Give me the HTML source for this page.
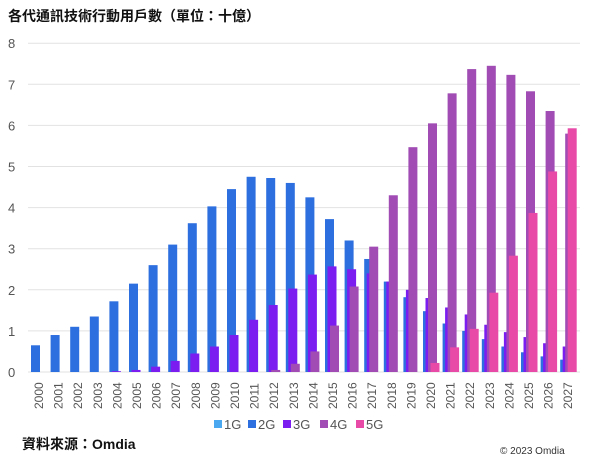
<!DOCTYPE html>
<html><head><meta charset="utf-8"><style>
body{margin:0;background:#fff;}
svg{display:block;font-family:"Liberation Sans","Noto Sans CJK TC",sans-serif;}
</style></head><body>
<svg width="600" height="455" xmlns="http://www.w3.org/2000/svg">
<text x="8" y="21" font-size="14" font-weight="bold" fill="#111">各代通訊技術行動用戶數（單位：十億）</text>
<g id="grid" stroke="#e2e2e2" stroke-width="1"></g>
<g id="ylab" font-size="13" fill="#555"></g>
<g id="bars"></g>
<g id="xlab" font-size="12" fill="#555"></g>
<g font-size="13" fill="#555">
<rect x="214" y="420" width="8" height="8" fill="#4aa8f0"/><text x="224" y="429">1G</text>
<rect x="248" y="420" width="8" height="8" fill="#2e6fe0"/><text x="258" y="429">2G</text>
<rect x="283" y="420" width="8" height="8" fill="#7b1df0"/><text x="293" y="429">3G</text>
<rect x="320" y="420" width="8" height="8" fill="#a04cb4"/><text x="330" y="429">4G</text>
<rect x="356" y="420" width="8" height="8" fill="#e84aa8"/><text x="366" y="429">5G</text>
</g>
<text x="22" y="449" font-size="14" font-weight="bold" fill="#111">資料來源：Omdia</text>
<text x="500" y="454" font-size="10" fill="#333">© 2023 Omdia</text>
<script>
var ns="http://www.w3.org/2000/svg",y0=372,u=41.1;
function el(p,t,a,txt){var e=document.createElementNS(ns,t);for(var k in a)e.setAttribute(k,a[k]);if(txt!=null)e.textContent=txt;document.getElementById(p).appendChild(e);}
for(var i=0;i<=8;i++){var y=y0-i*u;el("grid","line",{x1:28,x2:580,y1:y,y2:y});el("ylab","text",{x:8,y:y+5},i);}
var s={
g2:[.65,.9,1.1,1.35,1.72,2.15,2.6,3.1,3.62,4.03,4.45,4.75,4.72,4.6,4.25,3.72,3.2,2.75,2.2,1.82,1.48,1.18,1.0,.8,.62,.48,.38,.3],
g3:[0,0,0,0,.02,.05,.13,.27,.45,.62,.9,1.27,1.63,2.03,2.37,2.57,2.5,2.4,2.2,2.0,1.8,1.57,1.4,1.15,.97,.85,.7,.62],
g4:[0,0,0,0,0,0,0,0,0,0,0,0,.05,.2,.5,1.13,2.08,3.05,4.3,5.47,6.05,6.78,7.37,7.45,7.23,6.83,6.35,5.8],
g5:[0,0,0,0,0,0,0,0,0,0,0,0,0,0,0,0,0,0,0,0,.22,.6,1.05,1.93,2.83,3.87,4.88,5.93]};
var ser=[["g2",-8,"#2e6fe0"],["g3",-5.5,"#7b1df0"],["g4",-3,"#a04cb4"],["g5",-0.5,"#e84aa8"]];
for(var i=0;i<28;i++){var c=39+i*19.6;
ser.forEach(function(q){var v=s[q[0]][i];if(v>0){var h=v*u;el("bars","rect",{x:c+q[1],y:y0-h,width:9,height:h,fill:q[2]});}});
el("xlab","text",{x:0,y:0,transform:"translate("+(c+4)+",409) rotate(-90)"},2000+i);}
</script>
</svg>
</body></html>
